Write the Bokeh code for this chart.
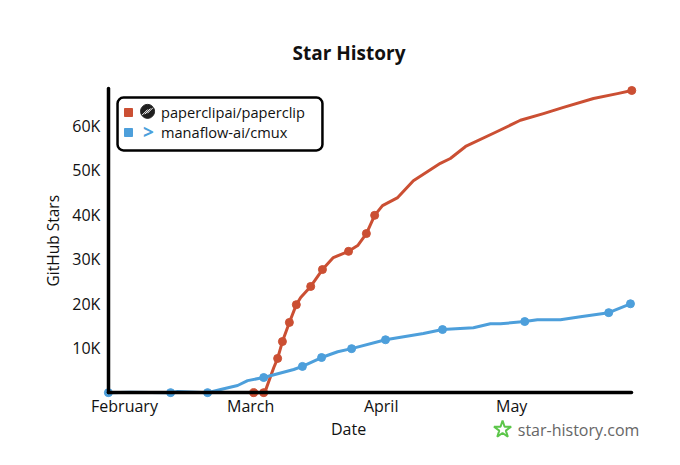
from math import pi
from bokeh.plotting import figure
from bokeh.models import Range1d, FixedTicker, Legend, LegendItem, BoxAnnotation, Label, LinearAxis
from bokeh.embed import file_html
from bokeh.resources import INLINE

FONT = "Open Sans"
RED = "#cb4f33"
BLUE = "#4d9fdb"

# x values are days since 1 February
red_days = [29.7, 32.0, 32.4, 34.3, 35.2, 36.3, 37.9, 39.5, 40.5, 42.8, 45.5, 48.0, 51.5, 53.6, 55.6,
            57.5, 59.3, 62.8, 66.4, 72.6, 74.9, 78.4, 85.3, 91.0, 96.3, 100.9, 107.8, 113.3, 116.6]
red_stars = [0, 0, 450, 5600, 7700, 11500, 15800, 19800, 21400, 23900, 27700, 30400, 31800, 33100, 35800,
             39900, 42100, 43900, 47700, 51600, 52700, 55400, 58600, 61300, 62800, 64200, 66200, 67300, 68000]
red_mark_days = [29.7, 32.0, 35.2, 36.3, 37.9, 39.5, 42.8, 45.5, 51.5, 55.6, 57.5, 116.6]
red_mark_stars = [0, 0, 7700, 11500, 15800, 19800, 23900, 27700, 31800, 35800, 39900, 68000]

blue_days = [-3.7, 1.4, 10.6, 12.2, 19.1, 22.1, 26.0, 28.3, 32.0, 38.9, 40.9, 45.3, 49.0, 52.2, 60.0,
             68.7, 73.1, 80.2, 84.1, 86.4, 92.0, 94.9, 100.2, 104.8, 111.3, 116.3]
blue_stars = [0, 100, 0, 250, 0, 700, 1600, 2700, 3400, 5200, 5900, 7900, 9200, 9900, 11900,
              13300, 14200, 14600, 15500, 15500, 16000, 16400, 16400, 17100, 18000, 20000]
blue_mark_days = [-3.7, 10.6, 19.1, 32.0, 40.9, 45.3, 52.2, 60.0, 73.1, 92.0, 111.3, 116.3]
blue_mark_stars = [0, 0, 0, 3400, 5900, 7900, 9900, 11900, 14200, 16000, 18000, 20000]

x_ticks = [0, 29, 59, 89]
x_labels = ["February", "March", "April", "May"]
y_ticks = [10000, 20000, 30000, 40000, 50000, 60000]
y_labels = ["10K", "20K", "30K", "40K", "50K", "60K"]

p = figure(width=680, height=465, output_backend="svg", toolbar_location=None,
           x_range=Range1d(-28.5, 127.8), y_range=Range1d(-16400, 72500),
           x_axis_location=None, y_axis_location=None,
           min_border_left=0, min_border_right=0, min_border_top=70, min_border_bottom=0,
           title="Star History")
p.outline_line_color = None
p.grid.visible = False
p.background_fill_color = "white"
p.title.align = "left"
p.title.offset = 292
p.title.standoff = 9
p.title.text_font = FONT
p.title.text_font_size = "19px"
p.title.text_font_style = "bold"
p.title.text_color = "#111111"

xax = LinearAxis(fixed_location=0, bounds=(-3.7, 116.6), ticker=FixedTicker(ticks=x_ticks),
                 major_label_overrides=dict(zip(x_ticks, x_labels)))
yax = LinearAxis(fixed_location=-3.7, bounds=(0, 68500), ticker=FixedTicker(ticks=y_ticks),
                 major_label_overrides=dict(zip(y_ticks, y_labels)))
for ax in (xax, yax):
    ax.axis_line_color = "black"
    ax.axis_line_width = 3.5
    ax.axis_line_cap = "round"
    ax.major_tick_line_color = None
    ax.minor_tick_line_color = None
    ax.major_label_text_font = FONT
    ax.major_label_text_font_size = "16px"
    ax.major_label_text_color = "#111111"
xax.major_label_standoff = -4
yax.major_label_standoff = 2
p.add_layout(xax, "below")
p.add_layout(yax, "left")

p.line(red_days, red_stars, line_color=RED, line_width=3, line_join="round")
p.scatter(red_mark_days, red_mark_stars, size=8, color=RED)
p.line(blue_days, blue_stars, line_color=BLUE, line_width=3, line_join="round")
p.scatter(blue_mark_days, blue_mark_stars, size=8, color=BLUE)

# legend
box = BoxAnnotation(left=-1.6, right=45.5, top=66400, bottom=54500, fill_color="white", fill_alpha=1,
                    line_color="black", line_alpha=1, line_width=2.5, border_radius=6, level="annotation")
p.add_layout(box)
r1 = p.scatter([-500], [0], marker="square", size=8, color=RED)
r2 = p.scatter([-500], [0], marker="square", size=8, color=BLUE)
legend = Legend(items=[LegendItem(label="paperclipai/paperclip", renderers=[r1]),
                       LegendItem(label="manaflow-ai/cmux", renderers=[r2])],
                location=(117, 322), margin=0, padding=1, spacing=0, glyph_width=20, glyph_height=20,
                label_standoff=23, label_height=20, label_text_font=FONT, label_text_font_size="14.6px",
                label_text_color="#111111", background_fill_alpha=0, border_line_alpha=0)
p.add_layout(legend)

# legend icons
p.scatter([5.3], [63300], marker="circle", size=14, color="#1f1f1f", level="overlay")
p.scatter([4.7, 5.3, 5.9], [63100, 63300, 63500], marker="dash", size=8, angle=pi / 4,
          line_color="white", line_width=1, level="overlay")
p.add_layout(Label(x=5.5, y=58600, text=">", text_color=BLUE, text_font=FONT, text_font_size="19px",
                   text_font_style="bold", text_align="center", text_baseline="middle"))

p.add_layout(Label(x=51.5, y=-8100, text="Date", text_font=FONT, text_font_size="16px", text_color="#111111",
                   text_align="center", text_baseline="middle"))
p.add_layout(Label(x=-16.5, y=34200, text="GitHub Stars", angle=pi / 2, text_font=FONT, text_font_size="15.5px",
                   text_color="#111111", text_align="center", text_baseline="middle"))

# watermark
p.scatter([86.9], [-8300], marker="star", size=18, fill_color=None, line_color="#5cc64a", line_width=2)
p.add_layout(Label(x=90.4, y=-8300, text="star-history.com", text_font=FONT, text_font_size="16px",
                   text_color="#666666", text_align="left", text_baseline="middle"))

open("out.html", "w").write(file_html(p, INLINE))
